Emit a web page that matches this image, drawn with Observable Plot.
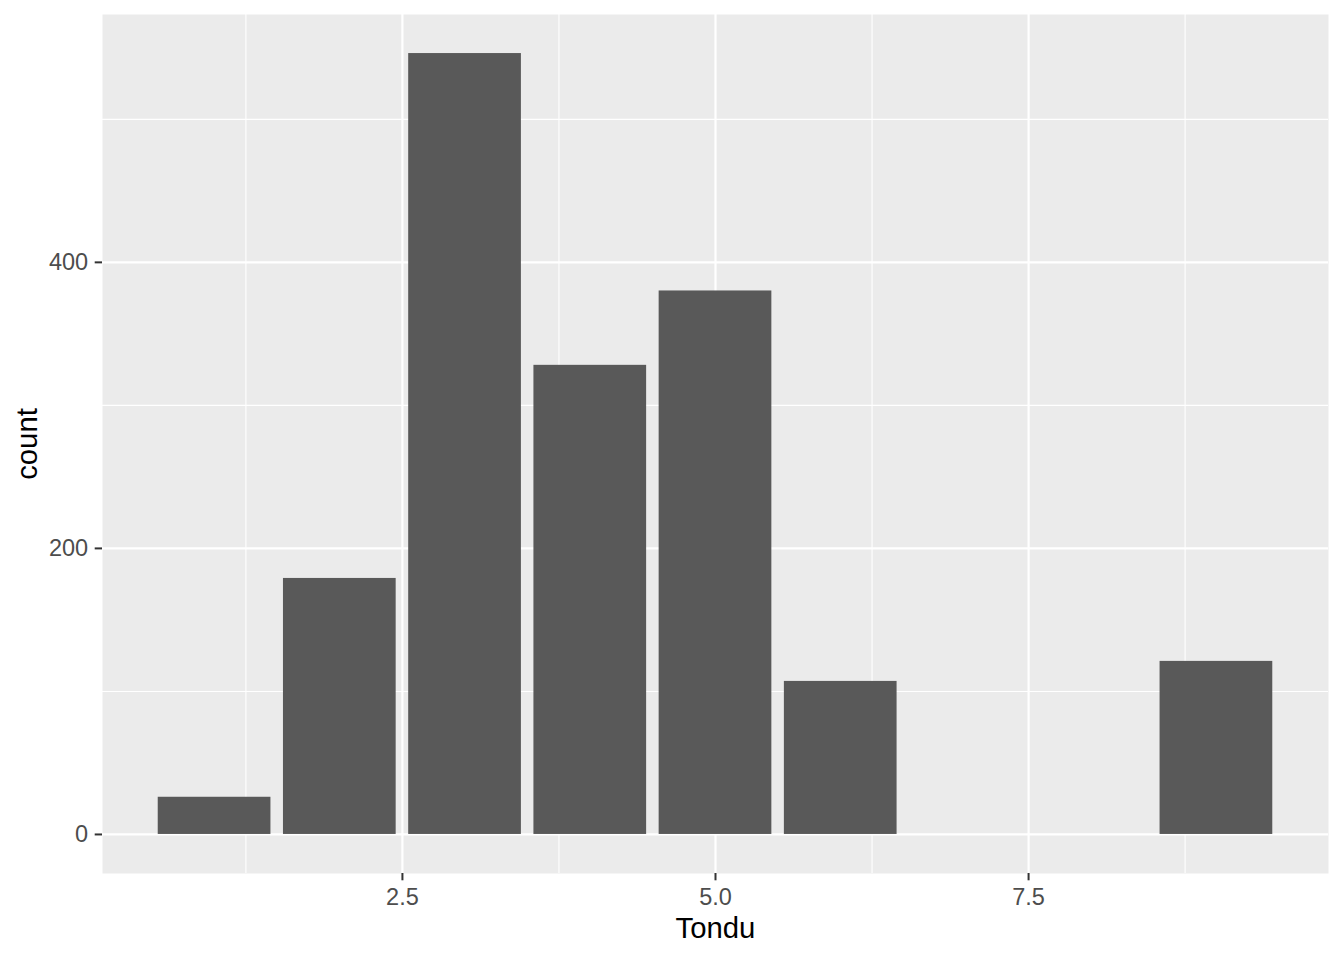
<!DOCTYPE html>
<html>
<head>
<meta charset="utf-8">
<script src="https://cdn.jsdelivr.net/npm/d3@7"></script>
<script src="https://cdn.jsdelivr.net/npm/@observablehq/plot@0.6"></script>
<style>
  html, body { margin: 0; padding: 0; background: #ffffff; }
  #chart svg { display: block; }
</style>
</head>
<body>
<div id="chart"></div>
<script>
// Data
const tondu = [1, 2, 3, 4, 5, 6, 9];
const counts = [26, 179, 546, 328, 380, 107, 121];
const xMajorTicks = [2.5, 5.0, 7.5];
const xMinorTicks = [1.25, 3.75, 6.25, 8.75];
const yMajorTicks = [0, 200, 400];
const yMinorTicks = [100, 300, 500];

const barWidth = 0.9;
const data = tondu.map((t, i) => ({x: t, count: counts[i]}));

// ggplot-like 5% expansion
const xMin = d3.min(tondu) - barWidth / 2, xMax = d3.max(tondu) + barWidth / 2;
const xPad = (xMax - xMin) * 0.05;
const yMax = d3.max(counts);
const yPad = yMax * 0.05;

const font = "'Liberation Sans', Arial, sans-serif";

const chart = Plot.plot({
  width: 1344,
  height: 960,
  marginLeft: 102,
  marginRight: 16,
  marginTop: 14,
  marginBottom: 87,
  style: {background: "#ffffff", fontFamily: font},
  x: {domain: [xMin - xPad, xMax + xPad]},
  y: {domain: [-yPad, yMax + yPad]},
  marks: [
    Plot.frame({fill: "#EBEBEB", stroke: null}),
    Plot.ruleX(xMinorTicks, {stroke: "#ffffff", strokeWidth: 1.1}),
    Plot.ruleY(yMinorTicks, {stroke: "#ffffff", strokeWidth: 1.1}),
    Plot.ruleX(xMajorTicks, {stroke: "#ffffff", strokeWidth: 2.2}),
    Plot.ruleY(yMajorTicks, {stroke: "#ffffff", strokeWidth: 2.2}),
    Plot.rectY(data, {
      x1: d => d.x - barWidth / 2,
      x2: d => d.x + barWidth / 2,
      y1: 0,
      y2: "count",
      fill: "#595959"
    }),
    Plot.axisX({
      ticks: xMajorTicks, tickFormat: d3.format(".1f"),
      tickSize: 7.3, tickPadding: 8, strokeWidth: 2,
      stroke: "#333333", fill: "#4D4D4D", fontSize: 23.5, label: null
    }),
    Plot.axisY({
      ticks: yMajorTicks, tickFormat: d3.format("d"),
      tickSize: 7.3, tickPadding: 7, strokeWidth: 2,
      stroke: "#333333", fill: "#4D4D4D", fontSize: 23.5, label: null
    }),
    Plot.axisX({
      ticks: [], tickSize: 0, fill: "#000000", fontSize: 29.3,
      label: "Tondu", labelAnchor: "center", labelArrow: "none", labelOffset: 64
    }),
    Plot.axisY({
      ticks: [], tickSize: 0, fill: "#000000", fontSize: 29.3,
      label: "count", labelAnchor: "center", labelArrow: "none", labelOffset: 86
    })
  ]
});

document.getElementById("chart").appendChild(chart);
</script>
</body>
</html>
